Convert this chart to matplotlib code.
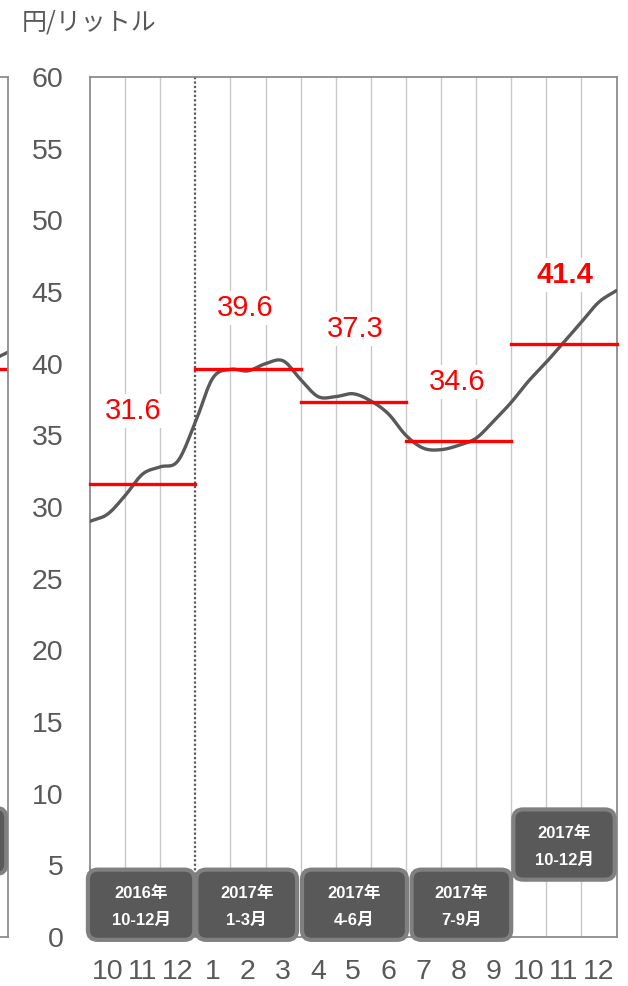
import numpy as np
import matplotlib.pyplot as plt
from matplotlib.patches import FancyBboxPatch

plt.rcParams["font.family"] = ["Liberation Sans", "Noto Sans CJK JP", "DejaVu Sans"]

# months shown on the x axis (Oct 2016 - Dec 2017)
month_labels = ["10", "11", "12", "1", "2", "3", "4", "5", "6", "7", "8", "9", "10", "11", "12"]

# price curve, every half month (x in months from Oct 1 2016)
curve_t = np.arange(0, 15.5, 0.5)
curve_price = [29.0, 29.5, 30.8, 32.3, 32.8, 33.2, 35.9, 39.0, 39.6, 39.5,
               40.0, 40.2, 38.9, 37.7, 37.7, 37.9, 37.4, 36.5, 35.0, 34.1,
               34.0, 34.3, 34.8, 36.0, 37.3, 38.8, 40.1, 41.5, 42.9, 44.3, 45.1]

# quarter averages
quarter_avg = [31.6, 39.6, 37.3, 34.6, 41.4]
quarter_year = ["2016年", "2017年", "2017年", "2017年", "2017年"]
quarter_months = ["10-12月", "1-3月", "4-6月", "7-9月", "10-12月"]

# neighbouring chart (only its right edge is visible)
prev_avg = 39.6
prev_end_price = [40.2, 40.8]

GREY = "#595959"
RED = "#ff0000"


def smooth(x, y, n=20):
    # catmull-rom style smoothing like the spreadsheet "smoothed line"
    x = np.asarray(x, float)
    y = np.asarray(y, float)
    px = np.concatenate([[2 * x[0] - x[1]], x, [2 * x[-1] - x[-2]]])
    py = np.concatenate([[2 * y[0] - y[1]], y, [2 * y[-1] - y[-2]]])
    xs, ys = [], []
    s = np.linspace(0, 1, n, endpoint=False)
    for i in range(1, len(px) - 2):
        for arr, out in ((px, xs), (py, ys)):
            p0, p1, p2, p3 = arr[i - 1], arr[i], arr[i + 1], arr[i + 2]
            out.append(0.5 * ((2 * p1) + (-p0 + p2) * s
                              + (2 * p0 - 5 * p1 + 4 * p2 - p3) * s ** 2
                              + (-p0 + 3 * p1 - 3 * p2 + p3) * s ** 3))
    xs.append([x[-1]])
    ys.append([y[-1]])
    return np.concatenate(xs), np.concatenate(ys)


fig = plt.figure(figsize=(6.28, 9.86), dpi=100)
W, H = 628, 986
ax = fig.add_axes([90 / W, 49 / H, 526.5 / W, 860 / H])

ax.set_xlim(0, 15)
ax.set_ylim(0, 60)

# month gridlines
for m in range(1, 15):
    if m == 3:
        ax.axvline(m, color=GREY, lw=1.6, ls=(0, (1, 1)), zorder=1)
    else:
        ax.axvline(m, color="#c8c8c8", lw=1.0, zorder=1)

for sp in ax.spines.values():
    sp.set_color("#8c8c8c")
    sp.set_linewidth(1.3)

# price curve
sx, sy = smooth(curve_t, curve_price)
ax.plot(sx, sy, color=GREY, lw=2.4, zorder=4, solid_capstyle="round")

# quarter averages
for q, v in enumerate(quarter_avg):
    ax.plot([3 * q, 3 * q + 3], [v, v], color=RED, lw=2.4, zorder=5,
            solid_capstyle="projecting", clip_on=False)

label_pos = [(1.23, 36.7), (4.42, 43.9), (7.56, 42.4), (10.47, 38.7), (13.52, 46.2)]
for q, v in enumerate(quarter_avg):
    x, y = label_pos[q]
    ax.text(x, y, f"{v:.1f}", color=RED, fontsize=21, ha="center", va="center",
            fontweight="bold" if q == len(quarter_avg) - 1 else "normal",
            bbox=dict(facecolor="white", edgecolor="none", pad=2), zorder=6)

# quarter name boxes
box_y = [(-0.2, 4.7), (-0.2, 4.7), (-0.2, 4.7), (-0.2, 4.7), (4.0, 8.9)]
box_x = [(-0.06, 2.97), (3.03, 5.9), (6.04, 9.03), (9.16, 12.0), (12.06, 14.95)]
for q in range(len(quarter_avg)):
    x0, x1 = box_x[q]
    y0, y1 = box_y[q]
    p = FancyBboxPatch((x0, y0), x1 - x0, y1 - y0,
                       boxstyle="round,pad=0,rounding_size=0.28",
                       mutation_aspect=2.45, facecolor=GREY, edgecolor="#808080",
                       lw=3, zorder=7, clip_on=False)
    ax.add_patch(p)
    cx = (x0 + x1) / 2
    ax.text(cx, y0 + (y1 - y0) * 0.66, quarter_year[q], color="white", fontsize=12,
            fontweight="bold", ha="center", va="center", zorder=8,
            family=["Liberation Sans", "Noto Sans CJK JP"])
    ax.text(cx, y0 + (y1 - y0) * 0.28, quarter_months[q], color="white", fontsize=12,
            fontweight="bold", ha="center", va="center", zorder=8,
            family=["Liberation Sans", "Noto Sans CJK JP"])

ax.set_yticks(np.arange(0, 61, 5))
ax.set_xticks(np.arange(15) + 0.5)
ax.set_xticklabels(month_labels)
ax.tick_params(axis="both", length=0, labelsize=20.5, colors=GREY)
ax.tick_params(axis="y", pad=19)
ax.tick_params(axis="x", pad=16)

fig.text(22 / W, 1 - 22 / H, "円/リットル", color=GREY, fontsize=18,
         ha="left", va="center", family=["Noto Sans CJK JP"])

# edge of the neighbouring chart on the left
ax2 = fig.add_axes([-518 / W, 49 / H, 526 / W, 860 / H])
ax2.set_xlim(0, 15)
ax2.set_ylim(0, 60)
ax2.set_xticks([])
ax2.set_yticks([])
for sp in ax2.spines.values():
    sp.set_color("#8c8c8c")
    sp.set_linewidth(1.3)
ax2.plot([14.5, 15], prev_end_price, color=GREY, lw=2.4)
ax2.plot([12, 15], [prev_avg, prev_avg], color=RED, lw=2.4)
ax2.add_patch(FancyBboxPatch((12.06, 4.4), 2.89, 4.6,
                             boxstyle="round,pad=0,rounding_size=0.28",
                             mutation_aspect=2.45, facecolor=GREY,
                             edgecolor="#808080", lw=3, zorder=7))

fig.savefig("out.png", dpi=100)
